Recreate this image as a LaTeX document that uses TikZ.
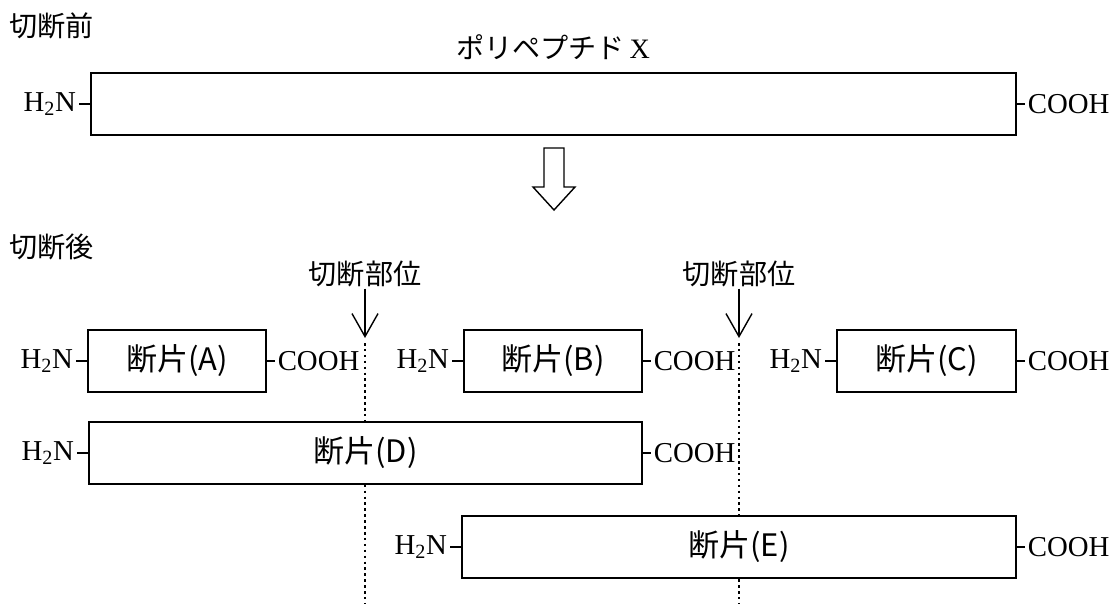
\documentclass[tikz,border=0pt]{standalone}
\usepackage{fontspec}
\setmainfont{Liberation Serif}
\newfontfamily\jpfont{Noto Sans CJK JP}
\usetikzlibrary{positioning,arrows.meta}

\begin{document}
\begin{tikzpicture}[x=0.025cm,y=-0.025cm,
        frag/.style={draw,fill=white,line width=1.5pt,minimum height=1.55cm,inner sep=0pt,font=\jpfont\fontsize{22}{22}\selectfont},
        term/.style={inner sep=0.7mm,font=\fontsize{20.5}{20.5}\selectfont},
        jlabel/.style={inner sep=1pt,font=\jpfont\fontsize{20}{20}\selectfont},
        tick/.style={line width=1.2pt},
        cut/.style={line width=1pt,-{Straight Barb[length=5.75mm,width=6.5mm]}},
        site/.style={line width=1.8pt,dash pattern=on 1.8pt off 2.4pt}]
        \useasboundingbox (0,0) rectangle (1110,604);
        % before cutting
        \node[jlabel,anchor=west] (before) at (8,26) {切断前};
        \node[jlabel] (name) at (553,47) {ポリペプチド\,{\rmfamily X}};
        \node[frag,minimum width=23.125cm] (X) at (553.5,104) {};
        \node[term,left=2.7mm of X] (nX) {H\textsubscript{2}N};
        \node[term,right=1.9mm of X] (cX) {COOH};
        \draw[tick] (nX) -- (X);
        \draw[tick] (X) -- (cX);
        \draw[line width=1pt] (544,148) -- (564,148) -- (564,187) -- (575,187)
            -- (554,210) -- (533,187) -- (544,187) -- cycle;
        % after cutting
        \node[jlabel,anchor=west] (after) at (8,247) {切断後};
        \node[jlabel] (cut1) at (365,274) {切断部位};
        \node[jlabel] (cut2) at (739,274) {切断部位};
        \coordinate (tip1) at (365,338);
        \coordinate (tip2) at (739,338);
        \draw[cut] (cut1) -- (tip1);
        \draw[cut] (cut2) -- (tip2);
        \coordinate (top1) at (365,343);
        \coordinate (bot1) at (365,604);
        \coordinate (top2) at (739,343);
        \coordinate (bot2) at (739,604);
        \draw[site] (top1) -- (bot1);
        \draw[site] (top2) -- (bot2);
        % fragments
        \node[frag,minimum width=4.45cm] (A) at (177,361) {断片(A)};
        \node[frag,minimum width=4.45cm] (B) at (553,361) {断片(B)};
        \node[frag,minimum width=4.475cm] (C) at (926.5,361) {断片(C)};
        \node[frag,minimum width=13.825cm] (D) at (365.5,453) {断片(D)};
        \node[frag,minimum width=13.85cm] (E) at (739,547) {断片(E)};
        \foreach \f in {A,B,C,D,E} {
            \node[term,left=2.7mm of \f] (n\f) {H\textsubscript{2}N};
            \node[term,right=1.9mm of \f] (c\f) {COOH};
            \draw[tick] (n\f) -- (\f);
            \draw[tick] (\f) -- (c\f);
        }
    \end{tikzpicture}
\end{document}
